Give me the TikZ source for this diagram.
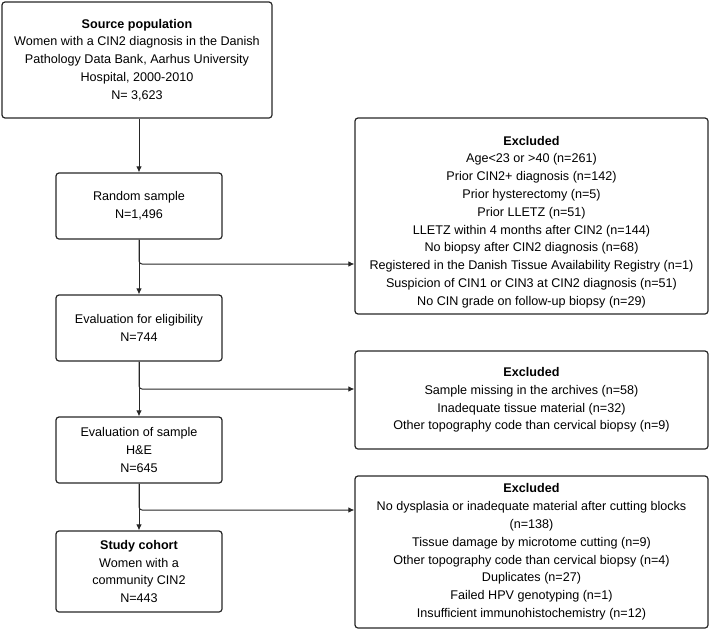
\documentclass[tikz,border=0pt]{standalone}
\usepackage{fontspec}
\setmainfont{Liberation Sans}
\usetikzlibrary{arrows.meta}
\begin{document}
\begin{tikzpicture}[x=1pt,y=-1pt,
  box/.style={draw=black!85,line width=1.2pt,rounded corners=3pt,align=center,
    font=\fontsize{12.6}{17.8}\selectfont,inner sep=0pt},
  txt/.style={align=center,font=\fontsize{12.6}{17.8}\selectfont,inner sep=0pt},
  arr/.style={draw=black!85,line width=1pt,-{Latex[length=6pt,width=5.5pt]}}]
\useasboundingbox (0,0) rectangle (709,629);
\node[box,minimum width=270pt,minimum height=116pt] (src) at (137,60)
  {\textbf{Source population}\\Women with a CIN2 diagnosis in the Danish\\Pathology Data Bank, Aarhus University\\Hospital, 2000-2010\\N= 3,623};
\node[box,minimum width=166pt,minimum height=66pt] (rs) at (139,206) {Random sample\\N=1,496};
\node[box,minimum width=166pt,minimum height=66pt] (ee) at (139,328) {Evaluation for eligibility\\N=744};
\node[box,minimum width=166pt,minimum height=66pt] (es) at (139,450) {Evaluation of sample\\H\&E\\N=645};
\node[box,minimum width=166pt,minimum height=81pt] (sc) at (139,571.5) {\textbf{Study cohort}\\Women with a\\community CIN2\\N=443};
\node[box,minimum width=353pt,minimum height=196pt] (x1) at (531.5,216) {};
\node[txt] (x1t) at (531.5,222)
  {\textbf{Excluded}\\Age<23 or >40 (n=261)\\Prior CIN2+ diagnosis (n=142)\\Prior hysterectomy (n=5)\\Prior LLETZ (n=51)\\LLETZ within 4 months after CIN2 (n=144)\\No biopsy after CIN2 diagnosis (n=68)\\Registered in the Danish Tissue Availability Registry (n=1)\\Suspicion of CIN1 or CIN3 at CIN2 diagnosis (n=51)\\No CIN grade on follow-up biopsy (n=29)};
\node[box,minimum width=353pt,minimum height=98pt] (x2) at (531.5,400)
  {\textbf{Excluded}\\Sample missing in the archives (n=58)\\Inadequate tissue material (n=32)\\Other topography code than cervical biopsy (n=9)};
\node[box,minimum width=353pt,minimum height=152pt] (x3) at (531.5,552)
  {\textbf{Excluded}\\No dysplasia or inadequate material after cutting blocks\\(n=138)\\Tissue damage by microtome cutting (n=9)\\Other topography code than cervical biopsy (n=4)\\Duplicates (n=27)\\Failed HPV genotyping (n=1)\\Insufficient immunohistochemistry (n=12)};
\coordinate (b1) at (139,264);
\coordinate (b2) at (139,389);
\coordinate (b3) at (139,510);
\draw[arr] (rs.north |- src.south) -- (rs.north);
\draw[arr] (rs.south) -- (ee.north);
\draw[arr] (ee.south) -- (es.north);
\draw[arr] (es.south) -- (sc.north);
\draw[arr,rounded corners=3pt] (rs.south) |- (x1.west |- b1);
\draw[arr,rounded corners=3pt] (ee.south) |- (x2.west |- b2);
\draw[arr,rounded corners=3pt] (es.south) |- (x3.west |- b3);
\end{tikzpicture}
\end{document}
